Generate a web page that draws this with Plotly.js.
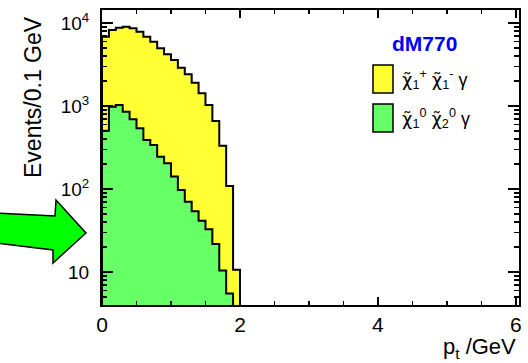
<!DOCTYPE html>
<html><head><meta charset="utf-8">
<script src="https://cdn.plot.ly/plotly-3.0.1.min.js"></script>
<style>html,body{margin:0;padding:0;background:#fff}#chart{width:528px;height:363px}</style>
</head><body><div id="chart"></div>
<script>
// ---- data ----
const binWidth = 0.1; // GeV
const yellowCounts = [6840, 8240, 8780, 9020, 8630, 7850, 6840, 5960, 4960, 4200, 3580, 2890, 2410, 1910, 1420, 1030, 660, 333, 109, 10.6];
const greenCounts = [503, 977, 1028, 853, 692, 538, 389, 338, 245, 204, 141, 97, 70, 54, 41.5, 32.7, 21.7, 10.4, 5.5];
const CHI = '<span style="font-family:DejaVu Sans">χ̃</span>';
const seriesNames = [CHI + '<sub>1</sub><sup>+</sup> ' + CHI + '<sub>1</sub><sup>-</sup> γ', CHI + '<sub>1</sub><sup>0</sup> ' + CHI + '<sub>2</sub><sup>0</sup> γ'];
const legendTitle = 'dM770';
const yTickVals = [10, 100, 1000, 10000];
const yTickText = ['10', '10<sup>2</sup>', '10<sup>3</sup>', '10<sup>4</sup>'];
const xTickVals = [0, 2, 4, 6];
const xTickText = ['0', '2', '4', '6'];
const yMinorVals = [];
[1, 10, 100, 1000].forEach(d => { for (let k = 2; k <= 9; k++) yMinorVals.push(k * d); });

const yellowColor = '#ffff33';
const greenColor = '#66ff66';
const FONT = 'Liberation Sans, Arial, Helvetica, sans-serif';

function stepOutline(counts) {
  const xs = [], ys = [];
  counts.forEach((c, i) => { xs.push(i * binWidth, (i + 1) * binWidth); ys.push(c, c); });
  const base = 1;
  xs.push(counts.length * binWidth, 0, 0);
  ys.push(base, base, counts[0]);
  return { xs, ys };
}

const yo = stepOutline(yellowCounts);
const go = stepOutline(greenCounts);

const traces = [
  { x: yo.xs, y: yo.ys, type: 'scatter', mode: 'lines', fill: 'toself', fillcolor: yellowColor,
    line: { color: '#000', width: 2 }, name: 'chargino', hoverinfo: 'skip' },
  { x: go.xs, y: go.ys, type: 'scatter', mode: 'lines', fill: 'toself', fillcolor: greenColor,
    line: { color: '#000', width: 2 }, name: 'neutralino', hoverinfo: 'skip' }
];

const L = 102, R = 519, T = 10, B = 305, W = 528, H = 363;
const px = x => (x - L) / (R - L);
const py = y => (B - y) / (B - T);

function arrowPath() {
  const pts = [[-5, 213], [55, 216], [56, 200], [86, 233], [53, 263], [53, 250], [-5, 243]];
  return 'M ' + pts.map(p => px(p[0]).toFixed(4) + ' ' + py(p[1]).toFixed(4)).join(' L ') + ' Z';
}

const layout = {
  width: W, height: H,
  margin: { l: L, r: W - R, t: T, b: H - B, pad: 0 },
  paper_bgcolor: '#fff', plot_bgcolor: '#fff',
  showlegend: false,
  font: { family: FONT, color: '#000' },
  xaxis: {
    range: [0, 6.045], showgrid: false, zeroline: false,
    showline: true, linecolor: '#000', linewidth: 2, mirror: 'ticks',
    ticks: 'inside', ticklen: 8, tickwidth: 1.5, tickcolor: '#000',
    tickmode: 'array', tickvals: xTickVals, ticktext: xTickText,
    tickfont: { size: 21, family: FONT }, ticklabelstandoff: 0,
    minor: { dtick: 0.5, ticks: 'inside', ticklen: 4, tickwidth: 1.5, tickcolor: '#000', showgrid: false }
  },
  yaxis: {
    type: 'log', range: [0.602, 4.157], showgrid: false, zeroline: false,
    showline: true, linecolor: '#000', linewidth: 2, mirror: 'ticks',
    ticks: 'inside', ticklen: 11, tickwidth: 1.5, tickcolor: '#000',
    tickmode: 'array', tickvals: yTickVals, ticktext: yTickText,
    tickfont: { size: 19, family: FONT }, ticklabelstandoff: 7,
    minor: { tickmode: 'array', tickvals: yMinorVals, ticks: 'inside', ticklen: 5, tickwidth: 1.5, tickcolor: '#000', showgrid: false }
  },
  shapes: [
    { type: 'rect', xref: 'paper', yref: 'paper', x0: px(373), x1: px(393), y0: py(93), y1: py(65),
      fillcolor: yellowColor, line: { color: '#000', width: 1.5 } },
    { type: 'rect', xref: 'paper', yref: 'paper', x0: px(373), x1: px(393), y0: py(132), y1: py(104),
      fillcolor: greenColor, line: { color: '#000', width: 1.5 } },
    { type: 'path', xref: 'paper', yref: 'paper', path: arrowPath(),
      fillcolor: '#00ff00', line: { color: '#000', width: 1.5 } }
  ],
  annotations: [
    { text: '<b>' + legendTitle + '</b>', xref: 'paper', yref: 'paper', x: px(424), y: py(43),
      xanchor: 'center', yanchor: 'middle', showarrow: false, font: { size: 21, color: '#0000ff', family: FONT } },
    { text: seriesNames[0], xref: 'paper', yref: 'paper', x: px(400), y: py(79),
      xanchor: 'left', yanchor: 'middle', showarrow: false, font: { size: 18, family: FONT } },
    { text: seriesNames[1], xref: 'paper', yref: 'paper', x: px(400), y: py(118),
      xanchor: 'left', yanchor: 'middle', showarrow: false, font: { size: 18, family: FONT } },
    { text: 'Events/0.1 GeV', xref: 'paper', yref: 'paper', x: px(33), y: py(97), textangle: -90,
      xanchor: 'center', yanchor: 'middle', showarrow: false, font: { size: 23, family: FONT } },
    { text: 'p<sub>t</sub> /GeV', xref: 'paper', yref: 'paper', x: px(518), y: py(348),
      xanchor: 'right', yanchor: 'middle', showarrow: false, font: { size: 22, family: FONT } }
  ]
};

Plotly.newPlot('chart', traces, layout, { staticPlot: true, displayModeBar: false });
</script>
</body></html>
